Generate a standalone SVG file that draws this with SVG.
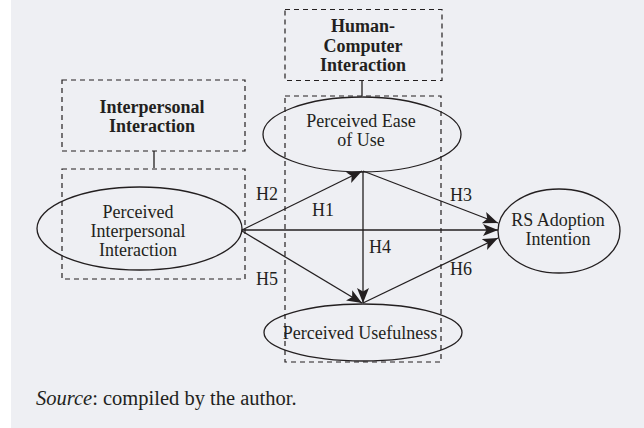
<svg xmlns="http://www.w3.org/2000/svg" width="644" height="428" viewBox="0 0 644 428">
<defs>
<style>
.bg{fill:#eeeff3}
.dash{fill:none;stroke:#231f20;stroke-width:1.2;stroke-dasharray:5,4}
.ell{fill:none;stroke:#231f20;stroke-width:1.3}
.ln{fill:none;stroke:#231f20;stroke-width:1.3}
.arr{fill:none;stroke:#231f20;stroke-width:1.3;marker-end:url(#ah)}
text{font-family:"Liberation Serif","Times New Roman",serif;fill:#231f20;text-anchor:middle}
.t{font-size:18px}
.b{font-size:18px;font-weight:bold}
.src{font-size:20.5px;text-anchor:start}
</style>
<marker id="ah" markerUnits="userSpaceOnUse" markerWidth="17" markerHeight="13" refX="15" refY="6" orient="auto">
<path d="M0,0 L15,6 L0,12 L3.5,6 z" fill="#231f20"/>
</marker>
</defs>
<rect class="bg" x="11" y="0" width="633" height="428"/>

<g id="interpersonal-interaction">
<rect class="dash" x="62" y="80" width="183" height="71"/>
<text class="b" x="152" y="113">Interpersonal</text>
<text class="b" x="152" y="132">Interaction</text>
</g>

<g id="human-computer-interaction">
<rect class="dash" x="285" y="9.5" width="157" height="71"/>
<text class="b" x="363" y="32">Human-</text>
<text class="b" x="363" y="52">Computer</text>
<text class="b" x="363" y="71">Interaction</text>
</g>

<g id="pii-frame">
<rect class="dash" x="62" y="169" width="183" height="110"/>
</g>
<g id="hci-frame">
<rect class="dash" x="285" y="96" width="156" height="266"/>
</g>

<g id="perceived-interpersonal-interaction">
<ellipse class="ell" cx="139.5" cy="228.5" rx="102.5" ry="41.5"/>
<text class="t" x="138" y="218">Perceived</text>
<text class="t" x="138" y="237">Interpersonal</text>
<text class="t" x="138" y="256">Interaction</text>
</g>

<g id="perceived-ease-of-use">
<ellipse class="ell" cx="362" cy="134.5" rx="99" ry="37.5"/>
<text class="t" x="361" y="127">Perceived Ease</text>
<text class="t" x="361" y="146">of Use</text>
</g>

<g id="perceived-usefulness">
<ellipse class="ell" cx="363" cy="332.5" rx="99" ry="28.5"/>
<text class="t" x="360" y="339">Perceived Usefulness</text>
</g>

<g id="rs-adoption-intention">
<ellipse class="ell" cx="559" cy="231" rx="61" ry="42"/>
<text class="t" x="558" y="226">RS Adoption</text>
<text class="t" x="558" y="245">Intention</text>
</g>

<g id="connectors">
<line class="ln" x1="154" y1="151" x2="154" y2="168"/>
<line class="ln" x1="362" y1="81" x2="362" y2="96"/>
<line class="arr" x1="242" y1="230" x2="362" y2="171"/>
<line class="arr" x1="242" y1="230" x2="498" y2="230"/>
<line class="arr" x1="242" y1="231" x2="362" y2="303"/>
<line class="arr" x1="363" y1="171" x2="363" y2="303"/>
<line class="arr" x1="363" y1="171" x2="498" y2="223"/>
<line class="arr" x1="363" y1="303" x2="498" y2="238"/>
<text class="t" x="267" y="200">H2</text>
<text class="t" x="323" y="216">H1</text>
<text class="t" x="461" y="201">H3</text>
<text class="t" x="380" y="253">H4</text>
<text class="t" x="267" y="285">H5</text>
<text class="t" x="461" y="275">H6</text>
</g>

<text class="src" x="36" y="405"><tspan font-style="italic">Source</tspan>: compiled by the author.</text>
</svg>
